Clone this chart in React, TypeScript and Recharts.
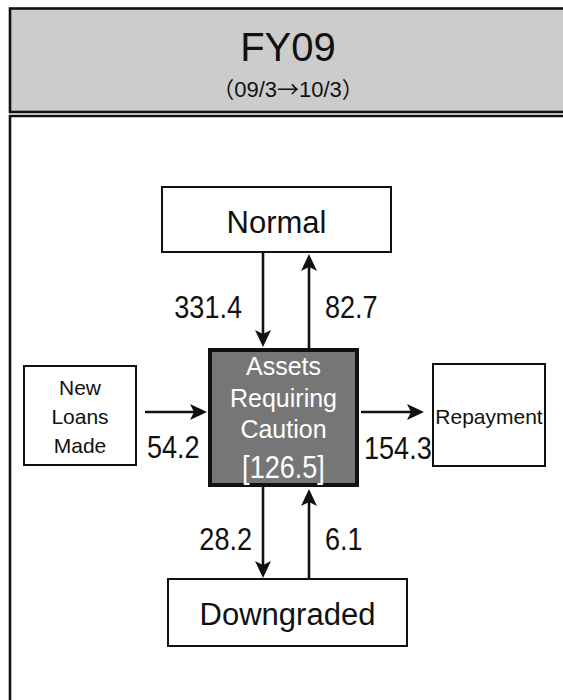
import { ComposedChart, XAxis, YAxis, Scatter, ReferenceArea, ReferenceLine } from "recharts";

// ---- data ----
const title = "FY09";
const periodFrom = "09/3";
const periodTo = "10/3";
const nodeNames = ["Normal", "New Loans Made", "Assets Requiring Caution", "Repayment", "Downgraded"];
const cautionBalance = 126.5;
const flowSources = ["Normal", "Assets Requiring Caution", "New Loans Made", "Assets Requiring Caution", "Assets Requiring Caution", "Downgraded"];
const flowTargets = ["Assets Requiring Caution", "Normal", "Assets Requiring Caution", "Repayment", "Downgraded", "Assets Requiring Caution"];
const flowValues = [331.4, 82.7, 54.2, 154.3, 28.2, 6.1];

// ---- layout (1 chart unit = 1px) ----
const W = 563;
const H = 700;
const SANS = '"Liberation Sans", Arial, Helvetica, sans-serif';
const CJK = '"Noto Sans CJK JP", "Noto Sans CJK SC", sans-serif';
const INK = "#111";

// no narrow face installed, so squeeze Liberation Sans to Arial Narrow widths
const narrowLen = (s: string, size: number) =>
  s.split("").reduce((w, c) => w + (/[0-9]/.test(c) ? 0.456 : 0.228), 0) * size;

type BoxLayout = {
  x1: number; x2: number; y1: number; y2: number;
  fill: string; color: string; sw: number;
  size: number; wrap: boolean; base: number; gap: number;
};

const boxLayout: Record<string, BoxLayout> = {
  "Normal": { x1: 162, x2: 391, y1: 187, y2: 252, fill: "#fff", color: INK, sw: 2, size: 31, wrap: false, base: 233, gap: 0 },
  "New Loans Made": { x1: 24, x2: 136, y1: 366, y2: 465, fill: "#fff", color: INK, sw: 2, size: 21, wrap: true, base: 395, gap: 29 },
  "Assets Requiring Caution": { x1: 210, x2: 357, y1: 350, y2: 485, fill: "#767676", color: "#fff", sw: 4, size: 25, wrap: true, base: 375, gap: 31.5 },
  "Repayment": { x1: 433, x2: 545, y1: 364, y2: 466, fill: "#fff", color: INK, sw: 2, size: 21, wrap: false, base: 424, gap: 0 },
  "Downgraded": { x1: 168, x2: 407, y1: 579, y2: 646, fill: "#fff", color: INK, sw: 2, size: 31, wrap: false, base: 625, gap: 0 },
};
const balanceBase = 478;

// arrow tail -> tip, and where its value sits
const arrowLayout = [
  { x1: 263, y1: 253, x2: 263, y2: 347, lx: 242, ly: 318, anchor: "end" },
  { x1: 309, y1: 349, x2: 309, y2: 254, lx: 325, ly: 318, anchor: "start" },
  { x1: 145, y1: 412, x2: 207, y2: 412, lx: 147, ly: 458, anchor: "start" },
  { x1: 361, y1: 412, x2: 424, y2: 412, lx: 364, ly: 459, anchor: "start" },
  { x1: 263, y1: 486, x2: 263, y2: 578, lx: 252, ly: 550, anchor: "end" },
  { x1: 309, y1: 578, x2: 309, y2: 489, lx: 325, ly: 550, anchor: "start" },
];

const labelData = flowValues.map((v, i) => ({
  x: arrowLayout[i].lx,
  y: arrowLayout[i].ly,
  value: v,
  anchor: arrowLayout[i].anchor,
  from: flowSources[i],
  to: flowTargets[i],
}));

const Arrow = (p: any) => {
  const { x1, y1, x2, y2 } = p;
  const dx = x2 - x1;
  const dy = y2 - y1;
  const len = Math.sqrt(dx * dx + dy * dy) || 1;
  const ux = dx / len;
  const uy = dy / len;
  const hl = 17;
  const hw = 8;
  const bx = x2 - ux * hl;
  const by = y2 - uy * hl;
  const nx = x2 - ux * (hl - 4);
  const ny = y2 - uy * (hl - 4);
  const pts = [
    [x2, y2],
    [bx - uy * hw, by + ux * hw],
    [nx, ny],
    [bx + uy * hw, by - ux * hw],
  ];
  return (
    <g>
      <line x1={x1} y1={y1} x2={nx} y2={ny} stroke={INK} strokeWidth={2.6} />
      <polygon points={pts.map((q) => q.join(",")).join(" ")} fill={INK} />
    </g>
  );
};

const NarrowText = ({ x, y, anchor, fill, children }: any) => (
  <text
    x={x}
    y={y}
    textAnchor={anchor}
    fontFamily={SANS}
    fontSize={31}
    fill={fill}
    textLength={narrowLen(children, 33)}
    lengthAdjust="spacingAndGlyphs"
  >
    {children}
  </text>
);

const makeBox = (name: string) => (p: any) => {
  const b = boxLayout[name];
  const { x, y, width, height } = p;
  if (x == null || y == null) return <g />;
  const cx = x + width / 2;
  const lines = b.wrap ? name.split(" ") : [name];
  const off = y - b.y1;
  return (
    <g>
      <rect x={x} y={y} width={width} height={height} fill={b.fill} stroke={INK} strokeWidth={b.sw} />
      {lines.map((t, i) => (
        <text key={t} x={cx} y={b.base + off + i * b.gap} textAnchor="middle" fontFamily={SANS} fontSize={b.size} fill={b.color}>
          {t}
        </text>
      ))}
      {name === "Assets Requiring Caution" && (
        <NarrowText x={cx} y={balanceBase + off} anchor="middle" fill="#fff">
          {`[${cautionBalance.toFixed(1)}]`}
        </NarrowText>
      )}
    </g>
  );
};

const Header = (p: any) => {
  const { x, y, width, height } = p;
  if (x == null || y == null) return <g />;
  return (
    <g>
      <rect x={x} y={y} width={width} height={height} fill="#cccccc" stroke={INK} strokeWidth={2.6} />
      <text x={288} y={y + 52.5} textAnchor="middle" fontFamily={SANS} fontSize={40} fill={INK}>
        {title}
      </text>
      <text x={288} y={y + 88.5} textAnchor="middle" fontFamily={SANS} fontSize={22} fill={INK}>
        <tspan fontFamily={CJK}>（</tspan>
        <tspan>{periodFrom}</tspan>
        <tspan fontFamily={CJK}>→</tspan>
        <tspan>{periodTo}</tspan>
        <tspan fontFamily={CJK}>）</tspan>
      </text>
    </g>
  );
};

const FlowLabel = (p: any) => {
  const { cx, cy, payload } = p;
  if (cx == null || cy == null) return <g />;
  return (
    <NarrowText x={cx} y={cy} anchor={payload.anchor} fill={INK}>
      {payload.value.toFixed(1)}
    </NarrowText>
  );
};

export default function App() {
  return (
    <div style={{ width: W, height: H, overflow: "hidden", background: "#fff" }}>
      <style>{"body{margin:0;overflow:hidden}"}</style>
      <ComposedChart width={W} height={H} data={labelData} margin={{ top: 0, right: 0, bottom: 0, left: 0 }}>
        <XAxis type="number" dataKey="x" domain={[0, W]} allowDataOverflow hide />
        <YAxis type="number" dataKey="y" domain={[0, H]} allowDataOverflow reversed hide />

        <ReferenceArea x1={10} x2={640} y1={8.5} y2={112} ifOverflow="visible" shape={Header} />
        <ReferenceArea x1={10} x2={640} y1={116} y2={760} ifOverflow="visible" fill="#fff" fillOpacity={1} stroke={INK} strokeWidth={2.6} />

        {nodeNames.map((n) => {
          const b = boxLayout[n];
          return <ReferenceArea key={n} x1={b.x1} x2={b.x2} y1={b.y1} y2={b.y2} ifOverflow="visible" shape={makeBox(n)} />;
        })}

        {arrowLayout.map((a, i) => (
          <ReferenceLine
            key={i}
            segment={[{ x: a.x1, y: a.y1 }, { x: a.x2, y: a.y2 }]}
            ifOverflow="visible"
            shape={Arrow}
          />
        ))}

        <Scatter data={labelData} dataKey="y" isAnimationActive={false} shape={FlowLabel} />
      </ComposedChart>
    </div>
  );
}
